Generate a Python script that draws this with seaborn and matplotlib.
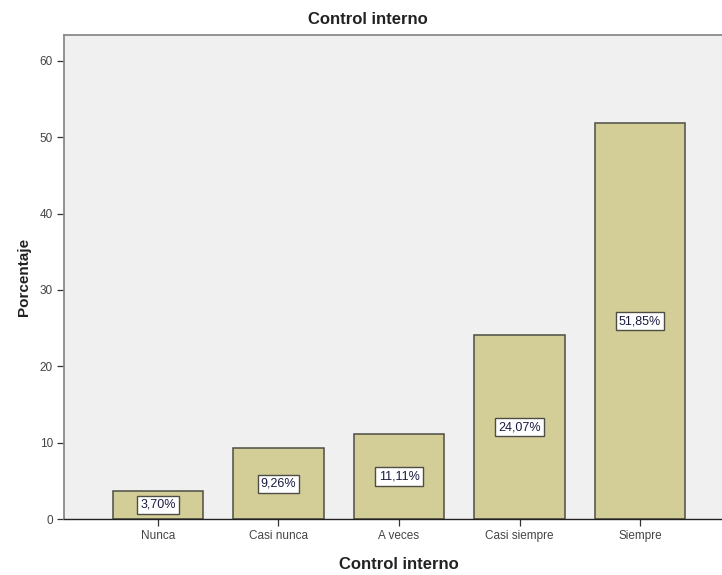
import matplotlib
matplotlib.use("Agg")
import matplotlib.pyplot as plt
import seaborn as sns
import pandas as pd

categories = ["Nunca", "Casi nunca", "A veces", "Casi siempre", "Siempre"]
percentages = [3.70, 9.26, 11.11, 24.07, 51.85]
y_ticks = [0, 10, 20, 30, 40, 50, 60]

sns.set_theme(style="white")
plt.rcParams["font.family"] = ["Liberation Sans", "DejaVu Sans"]

df = pd.DataFrame({"categoria": categories, "porcentaje": percentages})

W, H = 722, 575
fig = plt.figure(figsize=(W / 100, H / 100), dpi=100)
left, right, top, bottom = 64, 734, 35, 519
ax = fig.add_axes([left / W, 1 - bottom / H, (right - left) / W, (bottom - top) / H])
ax.set_facecolor("#F0F0F0")

sns.barplot(data=df, x="categoria", y="porcentaje", ax=ax, color="#D3CE97",
            saturation=1, width=0.755, edgecolor="#4d4d44", linewidth=1.1)

ax.set_xlim(-0.78, 4.78)
ax.set_ylim(0, 63.4)
ax.set_yticks(y_ticks)
ax.set_yticklabels([str(t) for t in y_ticks], fontsize=8.5, color="#444444")
ax.set_xticks(range(len(categories)))
ax.set_xticklabels(categories, fontsize=8.5, color="#444444")
ax.tick_params(axis="both", length=5, width=0.9, color="#333333", pad=3,
               bottom=True, left=True)

for s in ["left", "top"]:
    ax.spines[s].set_color("#8a8a8a")
    ax.spines[s].set_linewidth(1.3)
ax.spines["bottom"].set_color("#222222")
ax.spines["bottom"].set_linewidth(1.0)
ax.spines["right"].set_visible(False)

for i, v in enumerate(percentages):
    txt = f"{v:.2f}%".replace(".", ",")
    ax.text(i, v / 2, txt, ha="center", va="center", fontsize=9, color="#1a1a40",
            bbox=dict(boxstyle="square,pad=0.25", facecolor="white",
                      edgecolor="#4d4d44", linewidth=1.0))

ax.set_xlabel("Control interno", fontsize=12, fontweight="bold", color="#222222", labelpad=11)
ax.set_ylabel("Porcentaje", fontsize=11, fontweight="bold", color="#222222", labelpad=6)
fig.text(368 / W, 1 - 20 / H, "Control interno", ha="center", va="center",
         fontsize=12, fontweight="bold", color="#222222")

fig.savefig("out.png", dpi=100, facecolor="white")
